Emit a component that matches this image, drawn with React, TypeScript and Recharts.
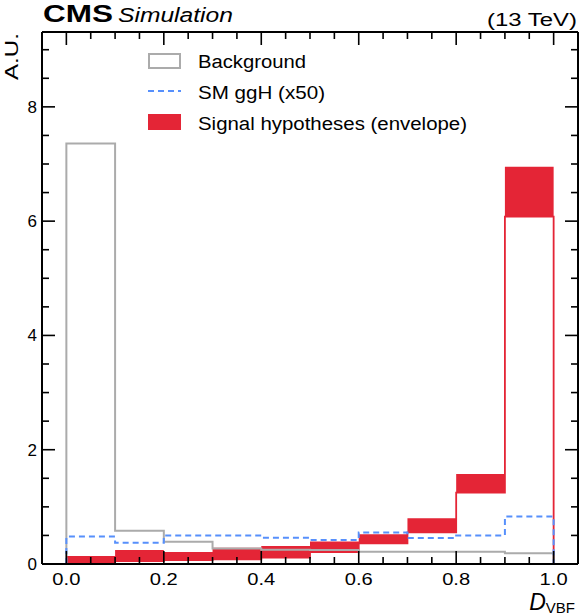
import { ComposedChart, Area, Line, XAxis, YAxis, ReferenceLine } from "recharts";

// bin lower edges of D_VBF, last bin closes at 1.0
const binLow = [0.0, 0.1, 0.2, 0.3, 0.4, 0.5, 0.6, 0.7, 0.8, 0.9];
const binEnd = 1.0;

const background = [7.36, 0.58, 0.39, 0.27, 0.25, 0.245, 0.215, 0.215, 0.215, 0.19];
const smGgH = [0.48, 0.37, 0.5, 0.5, 0.46, 0.42, 0.55, 0.455, 0.5, 0.83];
const signalMin = [0.01, 0.05, 0.07, 0.08, 0.11, 0.21, 0.36, 0.555, 1.25, 6.08];
const signalMax = [0.14, 0.245, 0.21, 0.285, 0.315, 0.395, 0.52, 0.8, 1.575, 6.95];

const xLabelTicks = [0.0, 0.2, 0.4, 0.6, 0.8, 1.0];
const yLabelTicks = [0, 2, 4, 6, 8];
const xMinorStep = 0.05;
const yMinorStep = 0.5;
const xMin = -0.05;
const xMax = 1.05;
const yMax = 9.31;

const FONT = "'Liberation Sans', Arial, Helvetica, sans-serif";
const RED = "#e42536";
const BLUE = "#5790fc";
const GRAY = "#ababab";

// plot box in px, used to turn tick lengths into data units
const PLOT_W = 536;
const PLOT_H = 532;
const MAJOR_PX = 13;
const MINOR_PX = 7;

function steps(from: number, to: number, step: number) {
  const out: number[] = [];
  for (let i = 0; from + i * step <= to + 1e-9; i++) out.push(+(from + i * step).toFixed(3));
  return out;
}

const xTicks = steps(0, 1, xMinorStep);
const yTicks = steps(0, 9, yMinorStep);

const isLabel = (v: number, list: number[]) => list.some((t) => Math.abs(t - v) < 1e-6);

function buildRows() {
  const rows: any[] = [{ x: binLow[0], bkg: 0, sm: 0, lo: 0, env: [0, 0] }];
  binLow.forEach((x, i) => {
    rows.push({ x, bkg: background[i], sm: smGgH[i], lo: signalMin[i], env: [signalMin[i], signalMax[i]] });
  });
  const n = binLow.length - 1;
  rows.push({ x: binEnd, bkg: background[n], sm: smGgH[n], lo: signalMin[n], env: [signalMin[n], signalMax[n]] });
  rows.push({ x: binEnd, bkg: 0, sm: 0, lo: 0, env: [0, 0] });
  return rows;
}

const rows = buildRows();

// inward tick marks as short reference segments (in data units)
const dxPer = (xMax - xMin) / PLOT_W;
const dyPer = yMax / PLOT_H;

function tickSegments() {
  const segs: { x1: number; y1: number; x2: number; y2: number }[] = [];
  xTicks.forEach((v) => {
    const len = (isLabel(v, xLabelTicks) ? MAJOR_PX : MINOR_PX) * dyPer;
    segs.push({ x1: v, y1: 0, x2: v, y2: len });
    segs.push({ x1: v, y1: yMax, x2: v, y2: yMax - len });
  });
  yTicks.forEach((v) => {
    const len = (isLabel(v, yLabelTicks) ? MAJOR_PX : MINOR_PX) * dxPer;
    segs.push({ x1: xMin, y1: v, x2: xMin + len, y2: v });
    segs.push({ x1: xMax, y1: v, x2: xMax - len, y2: v });
  });
  return segs;
}

const segments = tickSegments();

// eslint-disable-next-line @typescript-eslint/no-explicit-any
function BottomTick(props: any) {
  const { x, y, payload } = props;
  if (!isLabel(payload.value, xLabelTicks)) return <g />;
  return (
    <text x={x} y={y + 21} textAnchor="middle" fontSize={17} fontFamily={FONT} fill="#000"
      textLength={28} lengthAdjust="spacingAndGlyphs">
      {payload.value.toFixed(1)}
    </text>
  );
}

// eslint-disable-next-line @typescript-eslint/no-explicit-any
function LeftTick(props: any) {
  const { x, y, payload } = props;
  if (!isLabel(payload.value, yLabelTicks)) return <g />;
  return (
    <text x={x - 5} y={y + 6} textAnchor="end" fontSize={17} fontFamily={FONT} fill="#000">
      {payload.value}
    </text>
  );
}

function Overlay() {
  return (
    <svg width={580} height={616} style={{ position: "absolute", left: 0, top: 0, pointerEvents: "none" }}>
      <text x={43} y={22} fontSize={23} fontWeight="bold" fontFamily={FONT} textLength={70} lengthAdjust="spacingAndGlyphs">
        CMS
      </text>
      <text x={118} y={22} fontSize={20} fontStyle="italic" fontFamily={FONT} textLength={115} lengthAdjust="spacingAndGlyphs">
        Simulation
      </text>
      <text x={577} y={26} fontSize={18} textAnchor="end" fontFamily={FONT} textLength={90} lengthAdjust="spacingAndGlyphs">
        (13 TeV)
      </text>
      <text x={18} y={33} fontSize={18} textAnchor="end" fontFamily={FONT} transform="rotate(-90 18 33)"
        textLength={47} lengthAdjust="spacingAndGlyphs">
        A.U.
      </text>
      <text x={575} y={610} textAnchor="end" fontFamily={FONT}>
        <tspan fontSize={23} fontStyle="italic">D</tspan>
        <tspan fontSize={15} dy={3}>VBF</tspan>
      </text>

      {/* legend */}
      <rect x={149} y={54} width={31} height={14} fill="#fff" stroke={GRAY} strokeWidth={2} />
      <text x={198} y={68} fontSize={18} fontFamily={FONT} textLength={108} lengthAdjust="spacingAndGlyphs">
        Background
      </text>
      <line x1={148} x2={181} y1={91} y2={91} stroke={BLUE} strokeWidth={2} strokeDasharray="6 4" />
      <text x={198} y={99} fontSize={18} fontFamily={FONT} textLength={127} lengthAdjust="spacingAndGlyphs">
        SM ggH (x50)
      </text>
      <rect x={148} y={114} width={33} height={16} fill={RED} />
      <text x={198} y={130} fontSize={18} fontFamily={FONT} textLength={269} lengthAdjust="spacingAndGlyphs">
        Signal hypotheses (envelope)
      </text>
    </svg>
  );
}

export default function App() {
  return (
    <div style={{ position: "absolute", left: 0, top: 0, width: 580, height: 616, background: "#fff" }}>
      <Overlay />
      <div style={{ position: "absolute", left: 0, top: 0 }}>
        <ComposedChart width={580} height={616} data={rows} margin={{ top: 32, right: 2, bottom: 0, left: 0 }}>
          <Area
            dataKey="env"
            type="stepAfter"
            stroke="none"
            fill={RED}
            fillOpacity={1}
            dot={false}
            activeDot={false}
            isAnimationActive={false}
            legendType="none"
          />
          <Line dataKey="lo" type="stepAfter" stroke={RED} strokeWidth={1.8} dot={false} activeDot={false} isAnimationActive={false} />
          <Line dataKey="bkg" type="stepAfter" stroke={GRAY} strokeWidth={2} dot={false} activeDot={false} isAnimationActive={false} />
          <Line
            dataKey="sm"
            type="stepAfter"
            stroke={BLUE}
            strokeWidth={2}
            strokeDasharray="6 4"
            dot={false}
            activeDot={false}
            isAnimationActive={false}
          />
          {segments.map((s, i) => (
            <ReferenceLine
              key={`tick-${i}`}
              segment={[
                { x: s.x1, y: s.y1 },
                { x: s.x2, y: s.y2 },
              ]}
              stroke="#000"
              strokeWidth={1.6}
              ifOverflow="visible"
            />
          ))}
          <XAxis
            dataKey="x"
            type="number"
            domain={[xMin, xMax]}
            ticks={xTicks}
            interval={0}
            tickSize={0}
            tickMargin={0}
            tickLine={false}
            tick={<BottomTick />}
            axisLine={{ stroke: "#000", strokeWidth: 2 }}
            height={52}
            allowDataOverflow
          />
          <YAxis
            type="number"
            domain={[0, yMax]}
            ticks={yTicks}
            interval={0}
            tickSize={0}
            tickMargin={0}
            tickLine={false}
            tick={<LeftTick />}
            axisLine={{ stroke: "#000", strokeWidth: 2 }}
            width={42}
            allowDataOverflow
          />
          <ReferenceLine y={yMax} stroke="#000" strokeWidth={2} ifOverflow="visible" />
          <ReferenceLine x={xMax} stroke="#000" strokeWidth={2} ifOverflow="visible" />
        </ComposedChart>
      </div>
    </div>
  );
}
